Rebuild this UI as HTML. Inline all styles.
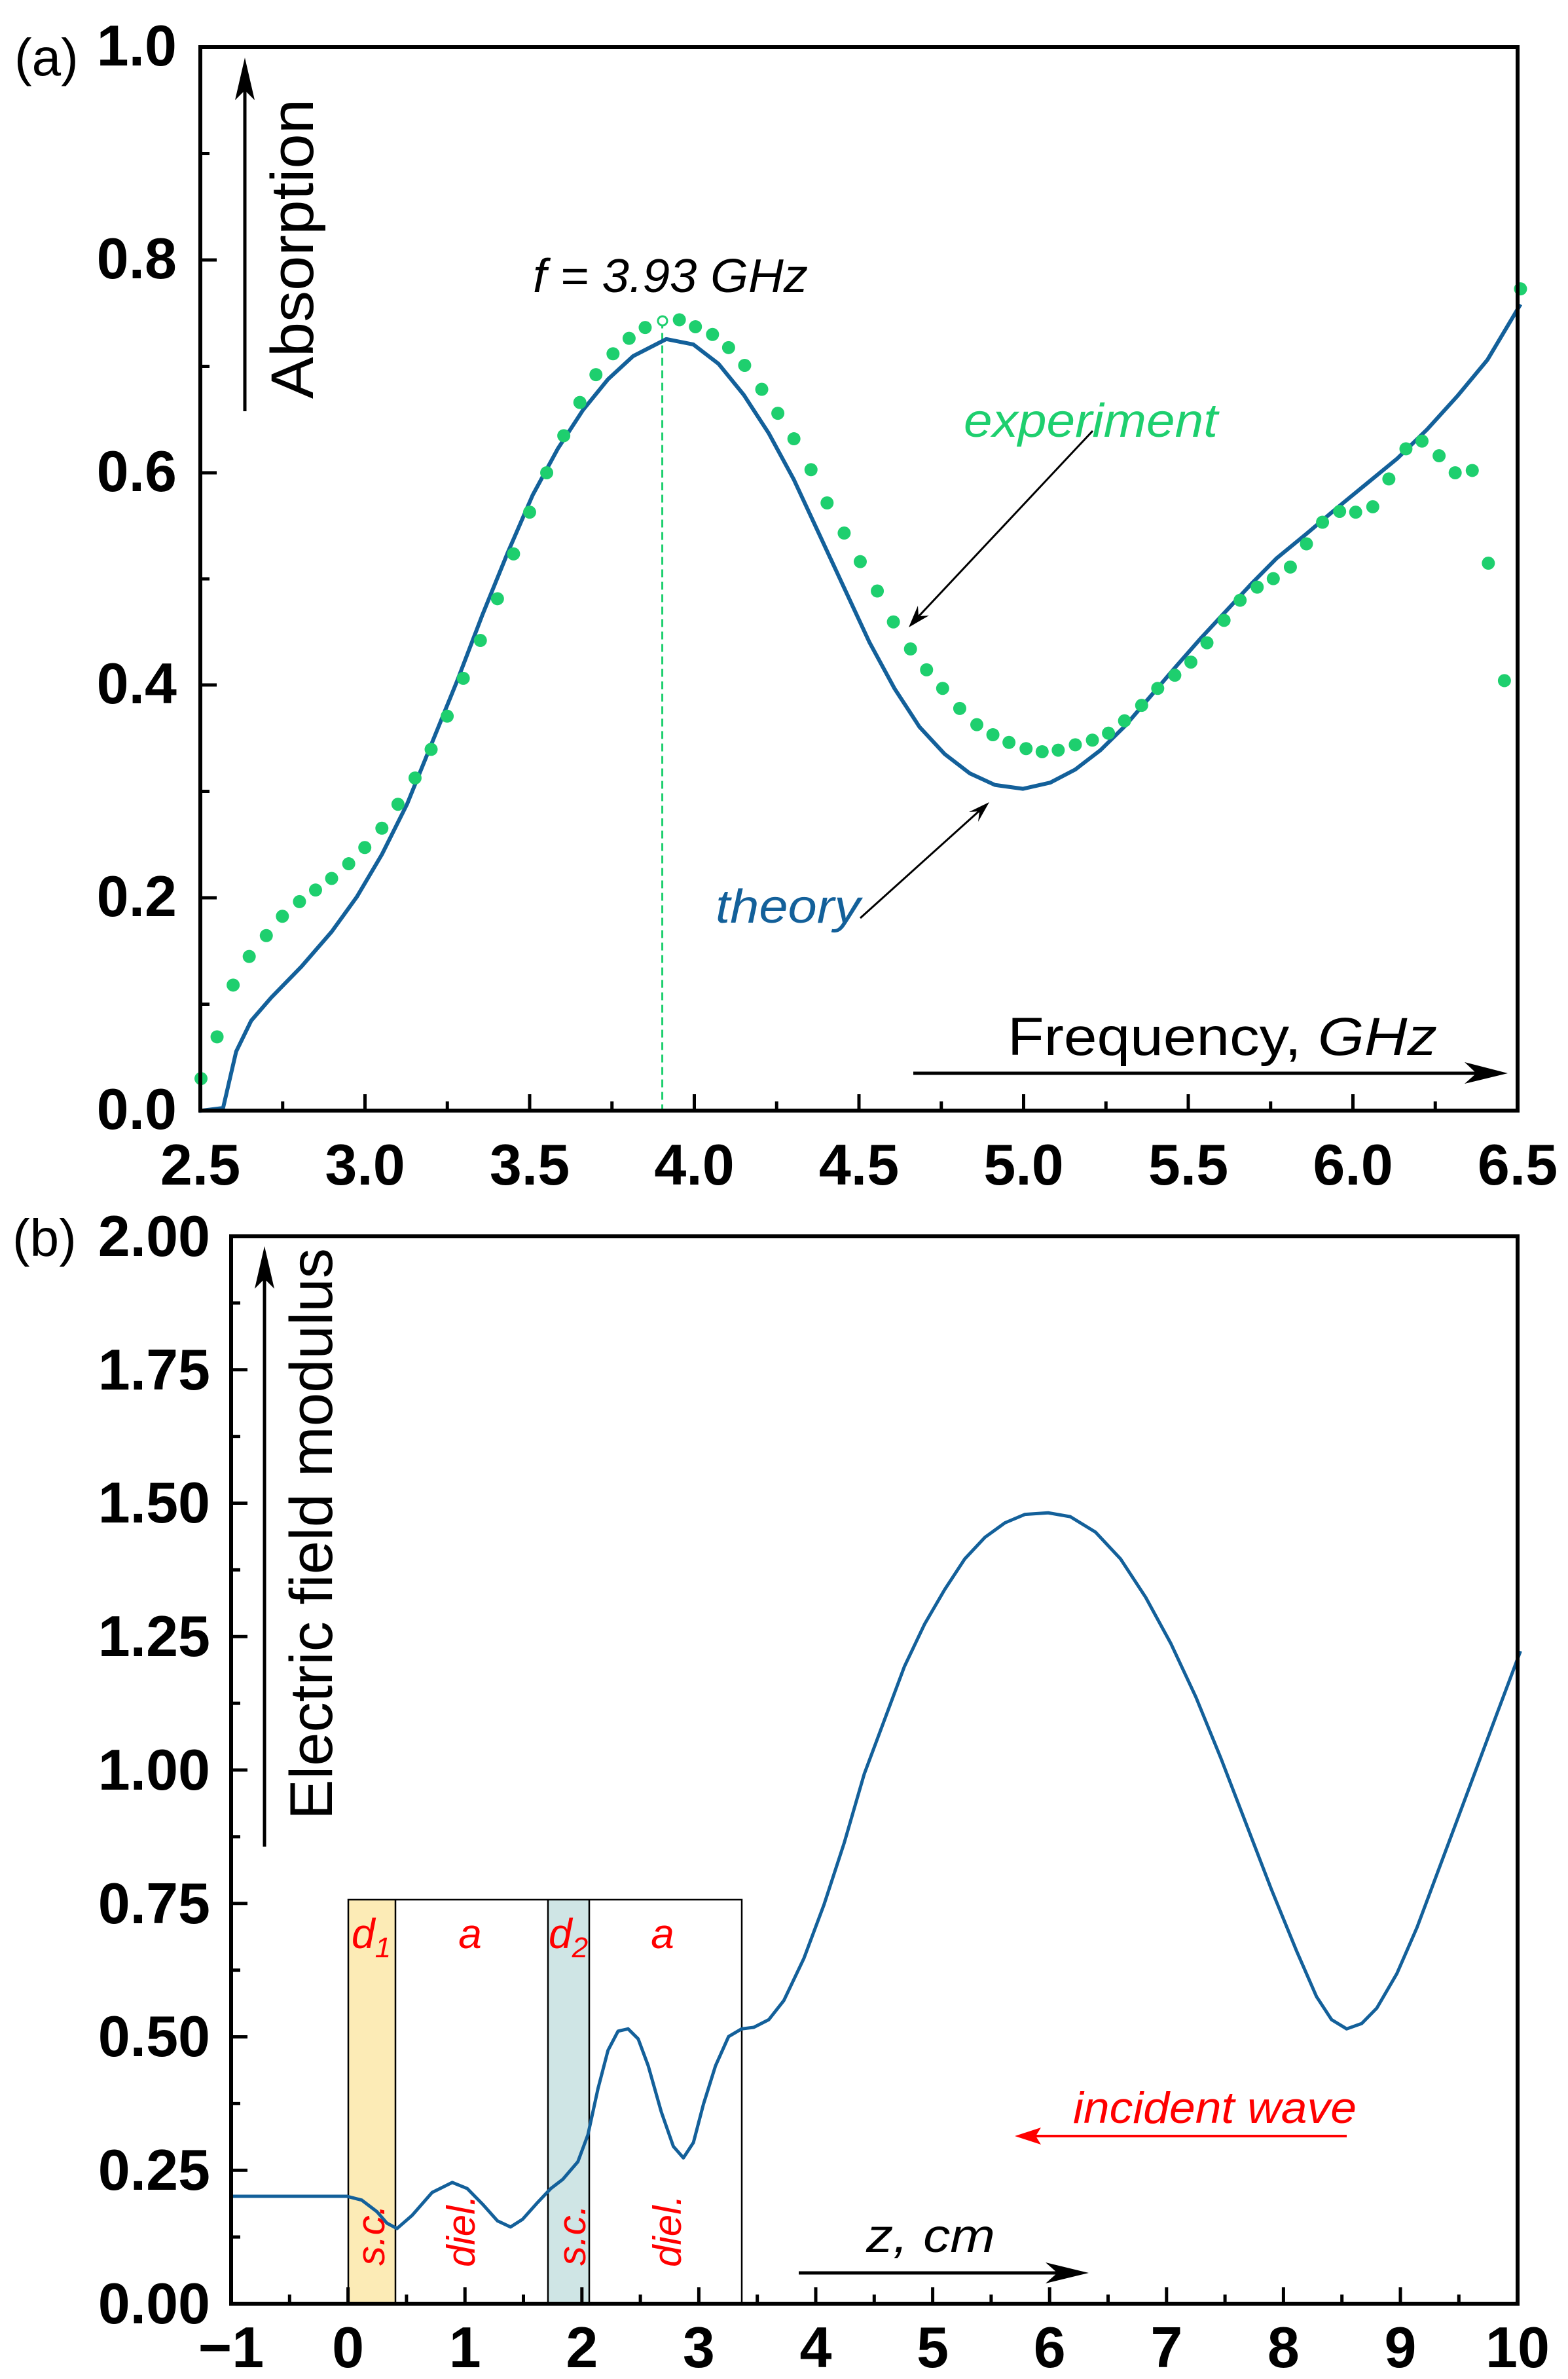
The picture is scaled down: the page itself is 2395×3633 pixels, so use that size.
<!DOCTYPE html>
<html><head><meta charset="utf-8"><style>
html,body{margin:0;padding:0;background:#fff}
svg{display:block}
text{font-family:"Liberation Sans",sans-serif}
.tl{font-weight:bold;font-size:88px}
</style></head><body>
<svg width="2395" height="3633" viewBox="0 0 2395 3633" xmlns="http://www.w3.org/2000/svg">
<!-- ===== Panel A ===== -->
<g transform="matrix(1.535 0 0 1.18 0 1)">
<line x1="659" y1="414" x2="659" y2="1437" stroke="#1ecf6e" stroke-width="3" stroke-dasharray="12 7" vector-effect="non-scaling-stroke"/>
<path d="M198,1437 L222,1433 L235,1360 L250,1320 L270,1290 L300,1250 L330,1205 L355,1160 L380,1105 L405,1040 L430,960 L455,880 L480,795 L505,715 L530,640 L555,580 L580,530 L605,490 L630,460 L663,438 L690,445 L715,470 L740,510 L765,560 L790,620 L815,690 L840,760 L865,830 L890,890 L915,940 L940,975 L965,1000 L990,1015 L1018,1020 L1045,1012 L1070,995 L1095,970 L1120,938 L1145,900 L1170,862 L1195,825 L1220,790 L1245,755 L1270,722 L1300,690 L1330,657 L1360,625 L1390,593 L1420,555 L1450,512 L1480,465 L1513,393" fill="none" stroke="#13609a" stroke-width="6" stroke-linejoin="round" vector-effect="non-scaling-stroke"/>
<path d="M200,1395h0M216,1341h0M232,1274h0M248,1237h0M265,1210h0M281,1185h0M298,1166h0M314,1151h0M330,1136h0M347,1117h0M363,1096h0M380,1071h0M396,1040h0M413,1006h0M429,969h0M445,926h0M461,877h0M478,828h0M495,774h0M511,716h0M527,662h0M544,611h0M561,563h0M577,520h0M593,484h0M610,457h0M626,437h0M642,423h0M676,413h0M692,422h0M709,432h0M725,449h0M741,472h0M758,503h0M774,534h0M790,567h0M807,607h0M823,650h0M840,689h0M856,726h0M873,764h0M889,804h0M906,839h0M922,866h0M938,890h0M955,916h0M972,937h0M988,950h0M1004,960h0M1021,968h0M1037,972h0M1053,970h0M1070,963h0M1087,957h0M1103,948h0M1119,932h0M1136,912h0M1152,890h0M1169,873h0M1185,856h0M1201,831h0M1218,802h0M1234,776h0M1251,759h0M1267,748h0M1284,733h0M1300,703h0M1316,675h0M1333,661h0M1349,662h0M1366,655h0M1382,619h0M1399,580h0M1415,570h0M1432,589h0M1448,611h0M1465,608h0M1481,728h0M1497,880h0M1513,373h0" stroke="#1ecf6e" stroke-width="20" stroke-linecap="round" fill="none" vector-effect="non-scaling-stroke"/>
</g>
<circle cx="1012" cy="490" r="7" fill="#fff" stroke="#1ecf6e" stroke-width="3"/>
<rect x="306" y="72" width="2012" height="1624" fill="none" stroke="#000" stroke-width="6"/>
<path d="M306,1696v-25M557.5,1696v-25M809,1696v-25M1060.5,1696v-25M1312,1696v-25M1563.5,1696v-25M1815,1696v-25M2066.5,1696v-25
M431.75,1696v-14M683.25,1696v-14M934.75,1696v-14M1186.25,1696v-14M1437.75,1696v-14M1689.25,1696v-14M1940.75,1696v-14M2192.25,1696v-14
M306,1371h25M306,1046h25M306,722h25M306,397h25M306,1533.5h14M306,1208.5h14M306,884h14M306,559.5h14M306,234.5h14" stroke="#000" stroke-width="5"/>
<g class="tl" text-anchor="end">
<text x="270" y="100">1.0</text><text x="270" y="425">0.8</text><text x="270" y="750">0.6</text><text x="270" y="1074">0.4</text><text x="270" y="1399">0.2</text><text x="270" y="1724">0.0</text>
</g>
<g class="tl" text-anchor="middle">
<text x="306" y="1809">2.5</text><text x="557.5" y="1809">3.0</text><text x="809" y="1809">3.5</text><text x="1060.5" y="1809">4.0</text><text x="1312" y="1809">4.5</text><text x="1563.5" y="1809">5.0</text><text x="1815" y="1809">5.5</text><text x="2066.5" y="1809">6.0</text><text x="2318" y="1809">6.5</text>
</g>
<text x="22" y="115" font-size="80" font-weight="300">(a)</text>
<line x1="374" y1="628" x2="374" y2="120" stroke="#000" stroke-width="5"/>
<path d="M374,88 L359,153 L374,138 L389,153 Z" fill="#000"/>
<text transform="translate(478,609) rotate(-90)" font-size="92" textLength="458" lengthAdjust="spacingAndGlyphs">Absorption</text>
<text x="814" y="446" font-size="72" font-style="italic" textLength="420" lengthAdjust="spacingAndGlyphs">f = 3.93 GHz</text>
<text x="1472" y="667" font-size="72" font-style="italic" fill="#1ecf6e" textLength="388" lengthAdjust="spacingAndGlyphs">experiment</text>
<line x1="1669" y1="658" x2="1395" y2="950" stroke="#000" stroke-width="3"/>
<path d="M1388,958 L1402,925 L1403,941 L1419,940 Z" fill="#000"/>
<text x="1093" y="1409" font-size="72" font-style="italic" fill="#13609a" textLength="221" lengthAdjust="spacingAndGlyphs">theory</text>
<line x1="1314" y1="1402" x2="1505" y2="1230" stroke="#000" stroke-width="3"/>
<path d="M1511,1225 L1494,1255 L1496,1239 L1480,1240 Z" fill="#000"/>
<text x="1539" y="1611" font-size="82" textLength="656" lengthAdjust="spacingAndGlyphs">Frequency, <tspan font-style="italic">GHz</tspan></text>
<line x1="1395" y1="1639" x2="2270" y2="1639" stroke="#000" stroke-width="5"/>
<path d="M2303,1639 L2237,1622 L2255,1639 L2237,1655 Z" fill="#000"/>

<!-- ===== Panel B ===== -->
<rect x="532" y="2901" width="72" height="617" fill="#fcebb6"/>
<rect x="837" y="2901" width="63" height="617" fill="#cfe5e5"/>
<g fill="none" stroke="#000" stroke-width="2.5">
<rect x="532" y="2901" width="601" height="617"/>
<line x1="604" y1="2901" x2="604" y2="3518"/><line x1="837" y1="2901" x2="837" y2="3518"/><line x1="900" y1="2901" x2="900" y2="3518"/>
</g>
<g transform="matrix(1.535 0 0 1.1727 0 1806)">
<path d="M230,1320 L345,1320 L360,1325 L375,1340 L385,1355 L395,1362 L410,1345 L430,1315 L450,1302 L465,1310 L480,1330 L495,1352 L508,1360 L520,1350 L535,1328 L548,1310 L560,1298 L575,1275 L585,1240 L595,1180 L605,1130 L615,1105 L625,1102 L635,1115 L645,1150 L658,1210 L670,1255 L680,1270 L690,1250 L700,1200 L712,1150 L725,1112 L738,1102 L750,1100 L765,1090 L780,1065 L800,1010 L820,940 L840,860 L860,770 L880,700 L900,630 L920,575 L940,530 L960,490 L980,462 L1000,443 L1020,432 L1043,430 L1065,435 L1090,455 L1115,490 L1140,540 L1165,600 L1190,670 L1215,750 L1240,835 L1265,920 L1290,1000 L1310,1060 L1325,1090 L1340,1102 L1355,1095 L1370,1075 L1390,1030 L1410,970 L1430,900 L1450,830 L1470,760 L1490,690 L1513,610" fill="none" stroke="#13609a" stroke-width="5" stroke-linejoin="round" vector-effect="non-scaling-stroke"/>
</g>
<rect x="353" y="1888" width="1965" height="1630" fill="none" stroke="#000" stroke-width="6"/>
<path d="M531.6,3518v-25M710.2,3518v-25M888.8,3518v-25M1067.4,3518v-25M1246,3518v-25M1424.6,3518v-25M1603.2,3518v-25M1781.8,3518v-25M1960.4,3518v-25M2139,3518v-25
M442.3,3518v-14M620.9,3518v-14M799.5,3518v-14M978.1,3518v-14M1156.7,3518v-14M1335.3,3518v-14M1513.9,3518v-14M1692.5,3518v-14M1871.1,3518v-14M2049.7,3518v-14M2228.3,3518v-14
M353,3314.25h25M353,3110.5h25M353,2906.75h25M353,2703h25M353,2499.25h25M353,2295.5h25M353,2091.75h25
M353,3416.1h14M353,3212.4h14M353,3008.6h14M353,2804.9h14M353,2601.1h14M353,2397.4h14M353,2193.6h14M353,1989.9h14" stroke="#000" stroke-width="5"/>
<g class="tl" text-anchor="end">
<text x="321" y="3548">0.00</text><text x="321" y="3344">0.25</text><text x="321" y="3140">0.50</text><text x="321" y="2937">0.75</text><text x="321" y="2733">1.00</text><text x="321" y="2529">1.25</text><text x="321" y="2325">1.50</text><text x="321" y="2122">1.75</text><text x="321" y="1918">2.00</text>
</g>
<g class="tl" text-anchor="middle">
<text x="353" y="3615">−1</text><text x="531.6" y="3615">0</text><text x="710.2" y="3615">1</text><text x="888.8" y="3615">2</text><text x="1067.4" y="3615">3</text><text x="1246" y="3615">4</text><text x="1424.6" y="3615">5</text><text x="1603.2" y="3615">6</text><text x="1781.8" y="3615">7</text><text x="1960.4" y="3615">8</text><text x="2139" y="3615">9</text><text x="2318" y="3615">10</text>
</g>
<text x="19" y="1918" font-size="80" font-weight="300">(b)</text>
<line x1="404" y1="2820" x2="404" y2="1935" stroke="#000" stroke-width="5"/>
<path d="M404,1903 L389,1968 L404,1953 L419,1968 Z" fill="#000"/>
<text transform="translate(507,2779) rotate(-90)" font-size="92" textLength="873" lengthAdjust="spacingAndGlyphs">Electric field modulus</text>
<g fill="#ff0000" font-style="italic" font-size="64">
<text x="537" y="2975">d<tspan font-size="44" dy="14">1</tspan></text>
<text x="718" y="2975" text-anchor="middle">a</text>
<text x="838" y="2975">d<tspan font-size="44" dy="14">2</tspan></text>
<text x="1012" y="2975" text-anchor="middle">a</text>
<text transform="translate(587,3460) rotate(-90)" font-size="60">s.c.</text>
<text transform="translate(725,3462) rotate(-90)" font-size="60">diel.</text>
<text transform="translate(894,3460) rotate(-90)" font-size="60">s.c.</text>
<text transform="translate(1040,3462) rotate(-90)" font-size="60">diel.</text>
<text x="1639" y="3242" font-size="68" textLength="433" lengthAdjust="spacingAndGlyphs">incident wave</text>
</g>
<line x1="2057" y1="3262" x2="1580" y2="3262" stroke="#ff0000" stroke-width="4"/>
<path d="M1550,3262 L1590,3249 L1582,3262 L1590,3275 Z" fill="#ff0000"/>
<text x="1323" y="3439" font-size="72" font-style="italic" textLength="197" lengthAdjust="spacingAndGlyphs">z, cm</text>
<line x1="1220" y1="3471" x2="1630" y2="3471" stroke="#000" stroke-width="5"/>
<path d="M1663,3471 L1597,3455 L1615,3471 L1597,3487 Z" fill="#000"/>
</svg>
</body></html>
